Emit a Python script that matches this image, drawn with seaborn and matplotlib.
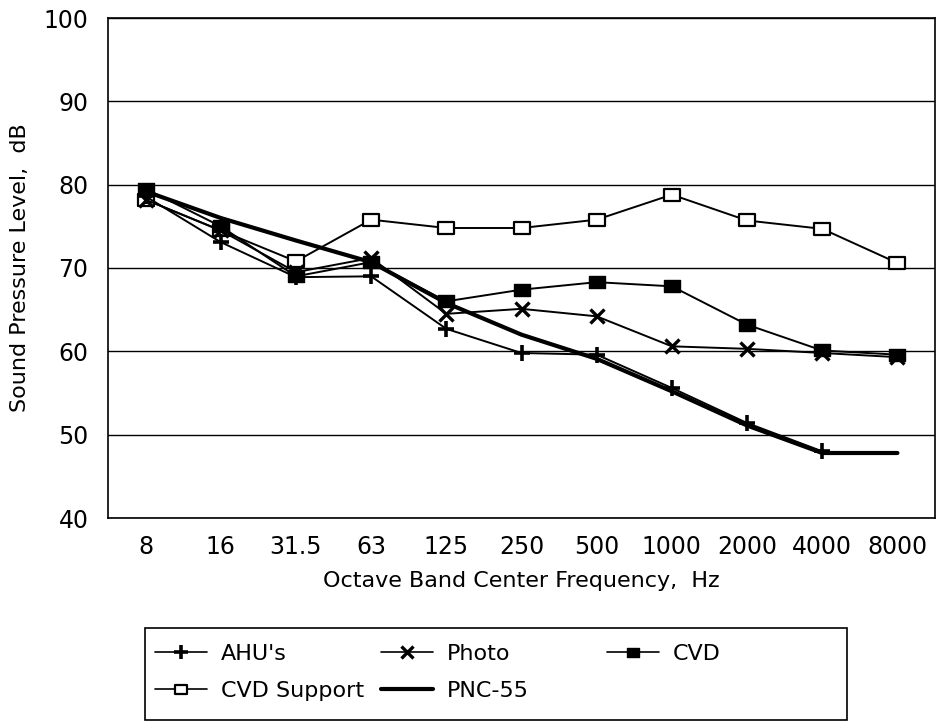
import numpy as np
import pandas as pd
import matplotlib
matplotlib.use("Agg")
import matplotlib.pyplot as plt
from matplotlib.path import Path
from matplotlib.patches import Rectangle
from matplotlib.lines import Line2D
import seaborn as sns

freqs = ["8", "16", "31.5", "63", "125", "250", "500", "1000", "2000", "4000", "8000"]
ahu = [78.6, 73.1, 68.9, 69.0, 62.7, 59.8, 59.6, 55.6, 51.4, 48.0]
photo = [78.2, 74.5, 69.5, 71.2, 64.5, 65.1, 64.2, 60.6, 60.3, 59.8, 59.3]
cvd = [79.5, 75.0, 69.0, 70.7, 66.0, 67.4, 68.3, 67.8, 63.2, 60.1, 59.6]
cvd_support = [78.2, 74.5, 70.8, 75.8, 74.8, 74.8, 75.8, 78.8, 75.7, 74.7, 70.6]
pnc55 = [79.2, 76.0, 73.3, 70.7, 65.8, 62.0, 59.1, 55.2, 51.1, 47.8, 47.8]

sns.set_theme(style="white")
plt.rcParams['font.family'] = ['DejaVu Sans']
plt.rcParams['text.color'] = 'black'

fig = plt.figure(figsize=(9.37, 7.26), dpi=100)
ax = fig.add_axes([108/937, 1-518/726, (935-108)/937, (518-18)/726])

rect = Path([(-1, -0.72), (1, -0.72), (1, 0.72), (-1, 0.72), (-1, -0.72)],
            [Path.MOVETO, Path.LINETO, Path.LINETO, Path.LINETO, Path.CLOSEPOLY])

styles = {
    "CVD Support": dict(marker=rect, markerfacecolor="white", markeredgecolor="black",
                        markeredgewidth=1.6, linewidth=1.4),
    "PNC-55": dict(linewidth=3.0),
    "AHU's": dict(marker="+", markeredgecolor="black", markeredgewidth=2.6, linewidth=1.4),
    "Photo": dict(marker="x", markeredgecolor="black", markeredgewidth=2.4, linewidth=1.4),
    "CVD": dict(marker=rect, markerfacecolor="black", markeredgecolor="black",
                markeredgewidth=1.0, linewidth=1.4),
}
plot_ms = {"CVD Support": 12, "PNC-55": None, "AHU's": 11, "Photo": 10, "CVD": 12}
leg_ms = {"CVD Support": 9, "PNC-55": None, "AHU's": 10, "Photo": 9, "CVD": 9}

data = {"CVD Support": cvd_support, "PNC-55": pnc55, "AHU's": ahu, "Photo": photo, "CVD": cvd}

for name in ["CVD Support", "PNC-55", "AHU's", "Photo", "CVD"]:
    vals = data[name]
    kw = dict(styles[name])
    if plot_ms[name]:
        kw["markersize"] = plot_ms[name]
    sns.lineplot(x=np.arange(len(vals)), y=vals, ax=ax, color="black", legend=False, **kw)

ax.set_xlim(-0.5, len(freqs) - 0.5)
ax.set_ylim(40, 100)
ax.set_xticks(np.arange(len(freqs)))
ax.set_xticklabels(freqs)
ax.set_yticks(np.arange(40, 101, 10))
ax.yaxis.grid(True, color="black", linewidth=1.0)
ax.xaxis.grid(False)
ax.set_axisbelow(True)
for s in ax.spines.values():
    s.set_color("black")
    s.set_linewidth(1.2)
ax.tick_params(axis="both", direction="out", length=8, width=1.2, color="black",
               labelsize=17, labelcolor="black", pad=6)
ax.tick_params(axis="x", pad=4)
ax.set_xlabel("Octave Band Center Frequency,  Hz", fontsize=16, color="black", labelpad=9)
ax.set_ylabel("Sound Pressure Level,  dB", fontsize=16, color="black", labelpad=10)

# legend frame
fig.patches.append(Rectangle((145/937, 1-720/726), (847-145)/937, (720-628)/726,
                             transform=fig.transFigure, fill=False,
                             edgecolor="black", linewidth=1.2))

def handle(name):
    kw = dict(styles[name])
    if leg_ms[name]:
        kw["markersize"] = leg_ms[name]
    if name != "PNC-55":
        kw["linewidth"] = 1.2
    return Line2D([], [], color="black", **kw)

columns = [(155, ["AHU's", "CVD Support"]), (381, ["Photo", "PNC-55"]), (607, ["CVD"])]
for xpix, names in columns:
    lg = fig.legend([handle(n) for n in names], names, ncol=1, loc="upper left",
                    bbox_to_anchor=(xpix/937, 1-644/726), frameon=False,
                    fontsize=16, handlelength=2.35, handletextpad=0.6,
                    borderpad=0.0, labelspacing=0.75, borderaxespad=0)
    for t in lg.get_texts():
        t.set_color("black")

fig.savefig("out.png", dpi=100)
